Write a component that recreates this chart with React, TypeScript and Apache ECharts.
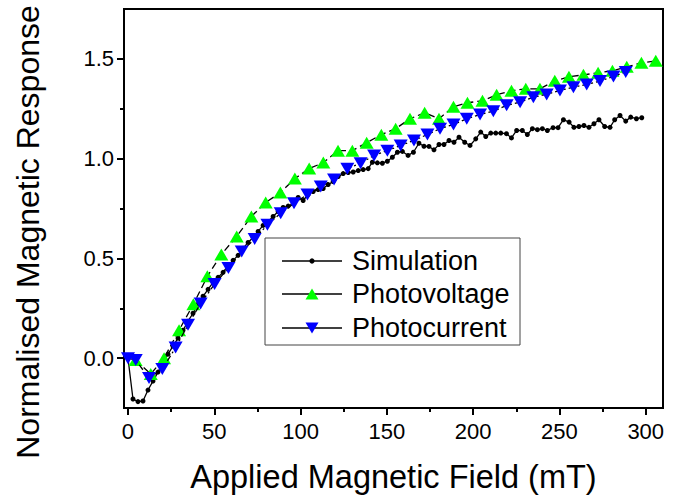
import React, { useEffect, useRef } from "react";
import * as echarts from "echarts";

const FONT = "'Liberation Sans', Arial, Helvetica, sans-serif";

// Axis ticks
const xMajorTicks = [0, 50, 100, 150, 200, 250, 300];
const xMinorTicks = [25, 75, 125, 175, 225, 275];
const yMajorTicks = [0, 0.5, 1.0, 1.5];
const yMinorTicks = [0.25, 0.75, 1.25];

const seriesNames = ["Simulation", "Photovoltage", "Photocurrent"];

// Simulation (black dots)
const simX = [0, 2.9, 5.8, 8.7, 11.6, 14.5, 17.4, 20.3, 23.2, 26.1, 29.0, 31.9, 34.8, 37.7, 40.6, 43.5, 46.4, 49.3, 52.2, 55.1, 58.0, 60.9, 63.8, 66.7, 69.6, 72.5, 75.4, 78.3, 81.2, 84.1, 87.0, 89.9, 92.8, 95.7, 98.6, 101.5, 104.4, 107.3, 110.2, 113.1, 116.0, 118.9, 121.8, 124.7, 127.6, 130.5, 133.4, 136.3, 139.2, 141.6, 144.5, 147.4, 150.3, 153.2, 156.1, 159.0, 162.3, 165.4, 168.6, 171.5, 174.4, 177.3, 180.2, 183.1, 186.0, 188.9, 191.8, 195.1, 198.2, 201.5, 204.4, 207.3, 210.2, 213.1, 216.0, 219.3, 222.2, 225.2, 228.5, 231.4, 234.3, 237.2, 240.1, 243.0, 246.3, 249.2, 252.3, 255.6, 258.4, 261.3, 264.2, 267.1, 270.0, 272.9, 276.2, 279.3, 282.0, 285.1, 288.4, 291.3, 294.6, 297.7];
const simY = [0.0, -0.205, -0.218, -0.215, -0.16, -0.115, -0.07, -0.025, 0.02, 0.06, 0.1, 0.14, 0.185, 0.225, 0.27, 0.31, 0.345, 0.38, 0.405, 0.43, 0.465, 0.49, 0.515, 0.55, 0.58, 0.605, 0.635, 0.665, 0.685, 0.71, 0.735, 0.755, 0.762, 0.775, 0.805, 0.79, 0.82, 0.835, 0.845, 0.85, 0.87, 0.885, 0.91, 0.925, 0.93, 0.933, 0.94, 0.945, 0.95, 0.982, 0.979, 0.977, 0.987, 1.007, 1.032, 1.036, 1.016, 1.032, 1.077, 1.062, 1.061, 1.044, 1.071, 1.071, 1.091, 1.082, 1.107, 1.082, 1.066, 1.099, 1.133, 1.111, 1.128, 1.128, 1.128, 1.125, 1.104, 1.141, 1.141, 1.121, 1.15, 1.145, 1.15, 1.141, 1.155, 1.155, 1.195, 1.183, 1.157, 1.161, 1.166, 1.157, 1.175, 1.195, 1.161, 1.157, 1.195, 1.216, 1.188, 1.208, 1.2, 1.205];

// Photovoltage (green up triangles)
const pvX = [4.4, 13.2, 20.9, 29.6, 37.9, 46.0, 54.1, 63.0, 71.5, 79.8, 88.3, 96.7, 105.0, 113.2, 121.7, 130.0, 138.3, 146.8, 155.1, 163.4, 171.9, 180.2, 188.6, 196.7, 205.4, 213.6, 222.2, 230.5, 238.7, 247.3, 255.5, 263.9, 272.4, 280.7, 289.0, 297.5, 305.8];
const pvY = [-0.01, -0.08, 0.0, 0.14, 0.27, 0.41, 0.52, 0.61, 0.71, 0.78, 0.83, 0.9, 0.95, 0.98, 1.04, 1.04, 1.08, 1.12, 1.15, 1.2, 1.23, 1.2, 1.26, 1.28, 1.29, 1.32, 1.34, 1.35, 1.35, 1.39, 1.41, 1.42, 1.43, 1.44, 1.46, 1.48, 1.49];

// Photocurrent (blue down triangles)
const pcX = [0, 4.5, 12.2, 19.9, 27.6, 34.8, 42.1, 50.2, 58.2, 65.9, 73.4, 80.8, 88.5, 96.2, 104.0, 111.7, 119.4, 127.1, 134.8, 142.6, 150.3, 158.0, 165.7, 173.5, 180.8, 188.6, 196.3, 204.0, 211.7, 219.4, 227.2, 234.9, 242.6, 250.3, 258.1, 265.8, 273.5, 281.3, 288.4];
const pcY = [0.0, -0.01, -0.1, -0.055, 0.053, 0.167, 0.274, 0.371, 0.452, 0.535, 0.597, 0.669, 0.726, 0.776, 0.82, 0.86, 0.895, 0.949, 0.977, 1.016, 1.04, 1.066, 1.091, 1.121, 1.15, 1.171, 1.2, 1.221, 1.238, 1.267, 1.283, 1.308, 1.322, 1.342, 1.358, 1.372, 1.389, 1.412, 1.434];

const zip = (xs: number[], ys: number[]) => xs.map((x, i) => [x, ys[i]]);

export default function App() {
  const ref = useRef<HTMLDivElement>(null);

  useEffect(() => {
    const chart = echarts.init(ref.current!, null, { renderer: "svg" });

    const GREEN = "#00ff00";
    const BLUE = "#0000ff";
    const lx = 265, ly = 238, lw = 255, lh = 107;
    const rowY = [261, 294, 328];
    const symX = 312;

    const legendEls: any[] = [
      {
        type: "rect",
        shape: { x: lx, y: ly, width: lw, height: lh },
        style: { fill: "#fff", stroke: "#444", lineWidth: 1 },
        z: 100,
      },
    ];
    rowY.forEach((cy, i) => {
      legendEls.push({
        type: "line",
        shape: { x1: 282, y1: cy, x2: 342, y2: cy },
        style: { stroke: "#000", lineWidth: 1.6 },
        z: 101,
      });
      if (i === 0) {
        legendEls.push({ type: "circle", shape: { cx: symX, cy, r: 2.6 }, style: { fill: "#000" }, z: 102 });
      } else if (i === 1) {
        legendEls.push({
          type: "polygon",
          shape: { points: [[symX - 6.5, cy + 5.5], [symX + 6.5, cy + 5.5], [symX, cy - 5.5]] },
          style: { fill: GREEN },
          z: 102,
        });
      } else {
        legendEls.push({
          type: "polygon",
          shape: { points: [[symX - 6.5, cy - 5.5], [symX + 6.5, cy - 5.5], [symX, cy + 5.5]] },
          style: { fill: BLUE },
          z: 102,
        });
      }
      legendEls.push({
        type: "text",
        x: 352,
        y: cy,
        style: {
          text: seriesNames[i],
          fontSize: 27,
          fontFamily: FONT,
          fill: "#000",
          align: "left",
          verticalAlign: "middle",
          textAlign: "left",
          textVerticalAlign: "middle",
        },
        z: 102,
      });
    });

    const option: any = {
      animation: false,
      backgroundColor: "#fff",
      grid: {
        left: 124,
        right: 29,
        top: 9,
        bottom: 92,
        show: true,
        borderColor: "#000",
        borderWidth: 2,
        backgroundColor: "transparent",
      },
      xAxis: [
        {
          type: "value",
          min: -2.3,
          max: 310,
          position: "bottom",
          name: "Applied Magnetic Field (mT)",
          nameLocation: "middle",
          nameGap: 52,
          nameTextStyle: { fontSize: 32.5, fontFamily: FONT, color: "#000" },
          axisLine: { show: true, onZero: false, lineStyle: { color: "#000", width: 2 } },
          axisTick: { show: true, customValues: xMajorTicks, length: 7, lineStyle: { color: "#000", width: 2 } },
          axisLabel: { show: true, customValues: xMajorTicks, margin: 12, fontSize: 22, fontFamily: FONT, color: "#000" },
          splitLine: { show: false },
        },
        {
          type: "value",
          min: -2.3,
          max: 310,
          position: "bottom",
          axisLine: { show: false, onZero: false },
          axisTick: { show: true, customValues: xMinorTicks, length: 4, lineStyle: { color: "#000", width: 2 } },
          axisLabel: { show: false },
          splitLine: { show: false },
        },
      ],
      yAxis: [
        {
          type: "value",
          min: -0.25,
          max: 1.75,
          position: "left",
          axisLine: { show: true, onZero: false, lineStyle: { color: "#000", width: 2 } },
          axisTick: { show: true, customValues: yMajorTicks, length: 7, lineStyle: { color: "#000", width: 2 } },
          axisLabel: {
            show: true,
            customValues: yMajorTicks,
            margin: 10,
            fontSize: 22,
            fontFamily: FONT,
            color: "#000",
            formatter: (v: number) => v.toFixed(1),
          },
          splitLine: { show: false },
        },
        {
          type: "value",
          min: -0.25,
          max: 1.75,
          position: "left",
          axisLine: { show: false, onZero: false },
          axisTick: { show: true, customValues: yMinorTicks, length: 4, lineStyle: { color: "#000", width: 2 } },
          axisLabel: { show: false },
          splitLine: { show: false },
        },
      ],
      graphic: [
        {
          type: "text",
          x: 28,
          y: 232,
          rotation: Math.PI / 2,
          style: {
            text: "Normalised Magnetic Response",
            fontSize: 32,
            fontFamily: FONT,
            fill: "#000",
            align: "center",
            verticalAlign: "middle",
            textAlign: "center",
            textVerticalAlign: "middle",
          },
        },
        ...legendEls,
      ],
      series: [
        {
          name: seriesNames[0],
          type: "line",
          xAxisIndex: 0,
          yAxisIndex: 0,
          data: zip(simX, simY),
          symbol: "circle",
          symbolSize: 5,
          showAllSymbol: true,
          itemStyle: { color: "#000" },
          lineStyle: { color: "#000", width: 1.3, type: "solid" },
          z: 2,
        },
        {
          name: seriesNames[1],
          type: "line",
          xAxisIndex: 0,
          yAxisIndex: 0,
          data: zip(pvX, pvY),
          symbol: "triangle",
          symbolSize: [14, 12],
          showAllSymbol: true,
          itemStyle: { color: GREEN, borderWidth: 0 },
          lineStyle: { color: "#000", width: 1.3, type: [7, 4] },
          z: 3,
        },
        {
          name: seriesNames[2],
          type: "line",
          xAxisIndex: 0,
          yAxisIndex: 0,
          data: zip(pcX, pcY),
          symbol: "triangle",
          symbolRotate: 180,
          symbolSize: [14, 12],
          showAllSymbol: true,
          itemStyle: { color: BLUE, borderWidth: 0 },
          lineStyle: { color: "#000", width: 1.3, type: [6, 3, 2, 3] },
          z: 4,
        },
      ],
    };

    chart.setOption(option);
    return () => chart.dispose();
  }, []);

  return (
    <div
      ref={ref}
      style={{ position: "absolute", left: 0, top: 0, width: 692, height: 500, background: "#fff" }}
    />
  );
}
